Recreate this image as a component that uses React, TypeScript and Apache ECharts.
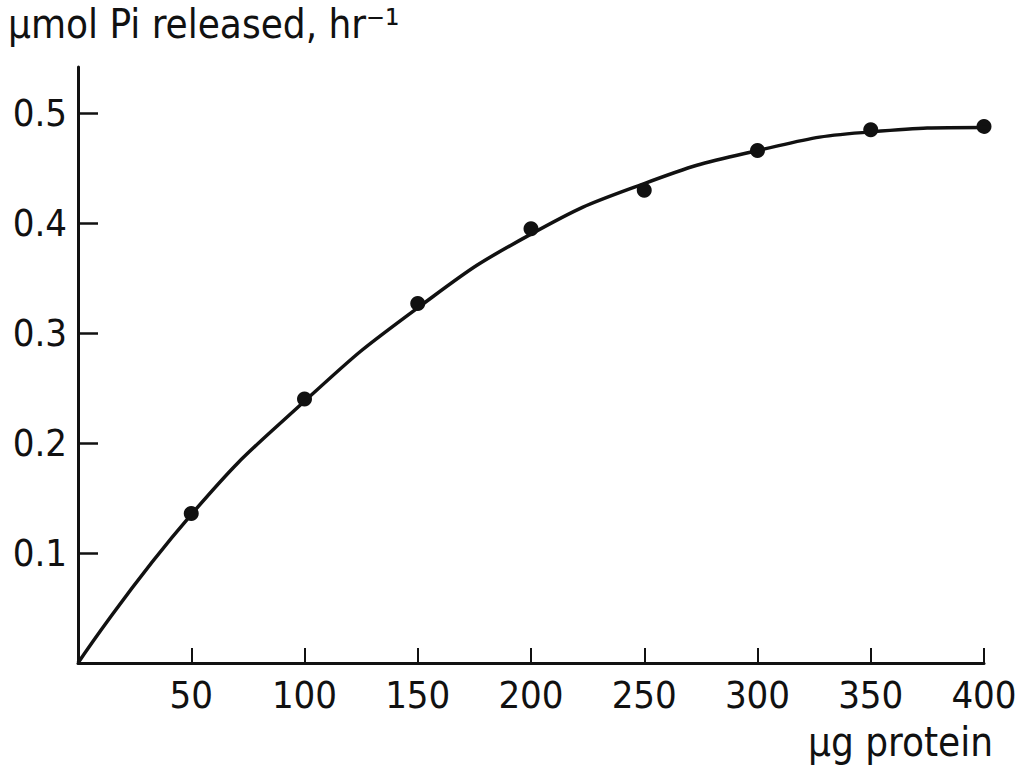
import React, { useEffect, useRef } from "react";
import * as echarts from "echarts";

const xTicks = [50, 100, 150, 200, 250, 300, 350, 400];
const yTicks = [0.1, 0.2, 0.3, 0.4, 0.5];
const pointX = [50, 100, 150, 200, 250, 300, 350, 400];
const pointY = [0.136, 0.24, 0.327, 0.395, 0.43, 0.466, 0.485, 0.488];
const curveX = [0, 50, 100, 150, 200, 250, 300, 350, 400, 412];
const curveY = [0, 0.135, 0.238, 0.323, 0.39, 0.436, 0.466, 0.483, 0.487, 0.487];
const yTitle = "µmol Pi released, hr⁻¹";
const xTitle = "µg protein";

const FONT = "'DejaVu Sans Condensed', 'DejaVu Sans', sans-serif";

export default function App() {
  const ref = useRef<HTMLDivElement>(null);
  useEffect(() => {
    if (!ref.current) return;
    const chart = echarts.init(ref.current, undefined, { renderer: "svg" });
    chart.setOption({
      animation: false,
      backgroundColor: "#fff",
      grid: { left: 78, right: 36, top: 67, bottom: 107 },
      xAxis: {
        type: "value",
        min: 0,
        max: 400,
        interval: 50,
        axisLine: { lineStyle: { color: "#111", width: 3 } },
        axisTick: { inside: true, length: 15, lineStyle: { color: "#111", width: 2 } },
        axisLabel: {
          color: "#111",
          fontSize: 38,
          fontFamily: FONT,
          margin: 13,
          formatter: (v: number) => (xTicks.includes(v) ? String(v) : ""),
        },
        splitLine: { show: false },
      },
      yAxis: {
        type: "value",
        min: 0,
        max: 0.542,
        interval: 0.1,
        axisLine: { show: true, lineStyle: { color: "#111", width: 3 } },
        axisTick: { show: true, inside: true, length: 20, lineStyle: { color: "#111", width: 2.5 } },
        axisLabel: {
          color: "#111",
          fontSize: 38,
          fontFamily: FONT,
          margin: 11,
          showMaxLabel: false,
          formatter: (v: number) => {
            const r = Math.round(v * 10) / 10;
            return yTicks.some((t) => Math.abs(t - v) < 1e-6) ? r.toFixed(1) : "";
          },
        },
        splitLine: { show: false },
      },
      series: [
        {
          type: "line",
          data: curveX.map((x, i) => [x, curveY[i]]),
          smooth: 0.5,
          showSymbol: false,
          clip: false,
          lineStyle: { color: "#111", width: 3.5 },
        },
        {
          type: "scatter",
          data: pointX.map((x, i) => [x, pointY[i]]),
          symbol: "circle",
          symbolSize: 15,
          itemStyle: { color: "#111", opacity: 1 },
          clip: false,
        },
      ],
      graphic: [
        {
          type: "text",
          left: 8,
          top: 4,
          style: { text: yTitle, fontSize: 40, fontFamily: FONT, fill: "#111" },
        },
        {
          type: "text",
          right: 27,
          top: 722,
          style: { text: xTitle, fontSize: 40, fontFamily: FONT, fill: "#111" },
        },
      ],
    });
    return () => chart.dispose();
  }, []);
  return (
    <div
      ref={ref}
      style={{ position: "fixed", left: 0, top: 0, width: 1020, height: 770 }}
    />
  );
}
